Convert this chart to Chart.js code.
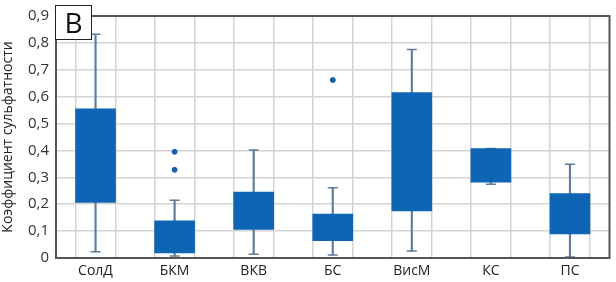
<!DOCTYPE html>
<html>
<head>
<meta charset="utf-8">
<script src="https://cdn.jsdelivr.net/npm/chart.js@4"></script>
<style>
  body { margin: 0; background: #fff; }
  #wrap { position: relative; width: 616px; height: 282px; }
  #panel {
    position: absolute; left: 55px; top: 5px; width: 37px; height: 35px;
    background: #fff; border: 1px solid #222; box-sizing: border-box;
    font: 28px "Open Sans", sans-serif; line-height: 33px; text-align: center; color: #111;
  }
</style>
</head>
<body>
<div id="wrap">
  <canvas id="boxChart" width="616" height="282"></canvas>
  <div id="panel">В</div>
</div>
<script>
// Данные
const categories = ['СолД', 'БКМ', 'ВКВ', 'БС', 'ВисМ', 'КС', 'ПС'];
const whiskerLow  = [0.023, 0.007, 0.014, 0.011, 0.026, 0.274, 0.004];
const q1          = [0.207, 0.019, 0.106, 0.064, 0.175, 0.282, 0.090];
const q3          = [0.555, 0.138, 0.245, 0.163, 0.615, 0.407, 0.240];
const whiskerHigh = [0.832, 0.215, 0.402, 0.261, 0.775, 0.407, 0.349];
const outlierCat  = [1, 1, 3];
const outlierVal  = [0.395, 0.328, 0.662];
const yTicks = [0, 0.1, 0.2, 0.3, 0.4, 0.5, 0.6, 0.7, 0.8, 0.9];

const boxColor = '#0d65b4';
const whiskerColor = '#5f7d9b';

const boxes = categories.map((c, i) => ({ x: i, y: [q1[i], q3[i]] }));
const whiskers = categories.map((c, i) => ({ x: i, y: [whiskerLow[i], whiskerHigh[i]] }));
const caps = [];
categories.forEach((c, i) => {
    caps.push({ x: i, y: whiskerLow[i] });
    caps.push({ x: i, y: whiskerHigh[i] });
});
const outliers = outlierCat.map((c, i) => ({ x: c, y: outlierVal[i] }));

// рамка вокруг области графика
const framePlugin = {
    id: 'frame',
    afterDatasetsDraw(chart) {
        const a = chart.chartArea;
        const ctx = chart.ctx;
        ctx.save();
        ctx.strokeStyle = '#555';
        ctx.lineWidth = 2;
        ctx.strokeRect(a.left, a.top, a.right - a.left, a.bottom - a.top);
        ctx.restore();
    }
};

const ctx = document.getElementById('boxChart').getContext('2d');
const chart = new Chart(ctx, {
    type: 'bar',
    data: {
        datasets: [
            {
                data: boxes,
                backgroundColor: boxColor,
                borderWidth: 0,
                barThickness: 40,
                grouped: false
            },
            {
                data: whiskers,
                backgroundColor: whiskerColor,
                borderWidth: 0,
                barThickness: 1.5,
                grouped: false
            },
            {
                type: 'scatter',
                data: caps,
                pointStyle: 'line',
                pointRadius: 5,
                borderColor: whiskerColor,
                borderWidth: 1.5
            },
            {
                type: 'scatter',
                data: outliers,
                pointRadius: 2.5,
                backgroundColor: '#1a5ea8',
                borderColor: '#1a5ea8'
            }
        ]
    },
    options: {
        responsive: false,
        animation: false,
        layout: { padding: { top: 5, right: 4, left: 0, bottom: 0 } },
        plugins: { legend: { display: false }, tooltip: { enabled: false } },
        scales: {
            x: {
                type: 'linear',
                min: -0.5,
                max: 6.5,
                offset: false,
                afterBuildTicks(scale) {
                    const t = [];
                    for (let v = -0.5; v <= 6.5; v += 0.5) t.push({ value: v });
                    scale.ticks = t;
                },
                afterFit(scale) { scale.height = 24; },
                grid: { color: '#d4d4d4', lineWidth: 1.5, drawTicks: false },
                border: { display: false },
                ticks: {
                    autoSkip: false,
                    maxRotation: 0,
                    padding: 5,
                    color: '#222',
                    font: { family: 'Open Sans', size: 14 },
                    callback: v => Number.isInteger(v) ? categories[v] : ''
                }
            },
            y: {
                min: 0,
                max: 0.9,
                afterBuildTicks(scale) {
                    scale.ticks = yTicks.map(v => ({ value: v }));
                },
                afterFit(scale) { scale.width = 56; },
                grid: { color: '#d4d4d4', lineWidth: 1.5, drawTicks: false },
                border: { display: false },
                title: {
                    display: true,
                    text: 'Коэффициент сульфатности',
                    color: '#222',
                    padding: 0,
                    font: { family: 'Open Sans', size: 14 }
                },
                ticks: {
                    padding: 7,
                    color: '#333',
                    font: { family: 'Open Sans', size: 15 },
                    callback: v => v === 0 ? '0' : v.toFixed(1).replace('.', ',')
                }
            }
        }
    },
    plugins: [framePlugin]
});
</script>
</body>
</html>
